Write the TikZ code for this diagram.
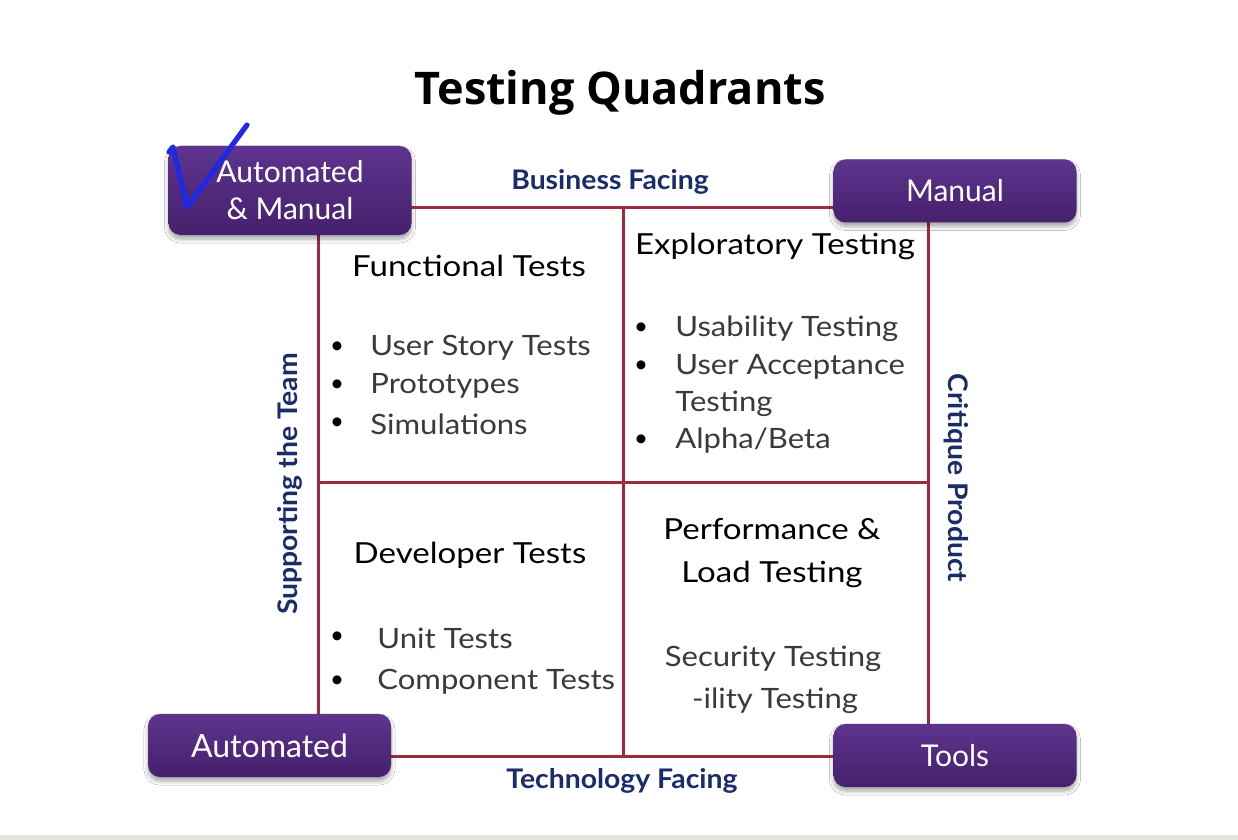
\documentclass[tikz,border=0pt]{standalone}
\usepackage{fontspec}
\setmainfont{Lato}
\newfontfamily\titlefont{Open Sans}
\newfontfamily\bodyfont[FakeStretch=1.11]{Lato}
\newfontfamily\headfont[FakeStretch=1.14]{Lato}
\newfontfamily\axisfont[FakeStretch=1.05]{Lato}
\usetikzlibrary{shadows.blur}
\definecolor{gridred}{HTML}{9E2A3C}
\definecolor{boxtop}{HTML}{5E348E}
\definecolor{boxbot}{HTML}{45206C}
\definecolor{navy}{HTML}{1B2C6B}
\definecolor{bodygray}{HTML}{3A3A3A}
\definecolor{tickblue}{HTML}{1E28E6}
\definecolor{edgerule}{HTML}{E6E6DA}
\tikzset{
  gridline/.style={draw=gridred, line width=1.5pt},
  cornerbox/.style={rounded corners=6pt, top color=boxtop, bottom color=boxbot,
    text=white, font=\fontsize{15}{18.5}\selectfont, align=center, inner sep=0pt,
    minimum width=121.5pt, minimum height=31.5pt,
    blur shadow={shadow xshift=0pt, shadow yshift=-2pt, shadow blur steps=6, shadow opacity=35}},
  axislabel/.style={text=navy, font=\axisfont\bfseries\fontsize{13.5}{16}\selectfont},
  heading/.style={text=black, font=\headfont\fontsize{14.5}{21.5}\selectfont, align=center},
  item/.style={text=bodygray, font=\bodyfont\fontsize{14}{17}\selectfont, anchor=west, inner sep=0pt},
  bullet/.style={text=black, font=\fontsize{12}{14}\selectfont, inner sep=0pt},
}
\begin{document}
\begin{tikzpicture}[x=0.5pt, y=-0.5pt]
  \useasboundingbox[fill=white] (0,0) rectangle (1238,840);
  % faint rule along the lower edge
  \fill[edgerule] (0,835) rectangle (1238,840);

  % title
  \node[font=\titlefont\bfseries\fontsize{22.5}{27}\selectfont] (title) at (620,93) {Testing Quadrants};

  % quadrant grid
  \coordinate (TL) at (318,208);
  \coordinate (TM) at (623,208);
  \coordinate (TR) at (928,208);
  \coordinate (ML) at (318,482);
  \coordinate (MR) at (928,482);
  \coordinate (BL) at (318,756);
  \coordinate (BM) at (623,756);
  \coordinate (BR) at (928,756);
  \draw[gridline] (TL) rectangle (BR);
  \draw[gridline] (TM) -- (BM);
  \draw[gridline] (ML) -- (MR);

  % corner boxes
  \node[cornerbox, minimum height=44.5pt] (am) at (290,190.5) {Automated\\\& Manual};
  \node[cornerbox] (manual) at (955,191) {Manual};
  \node[cornerbox, font=\fontsize{16}{19}\selectfont] (auto) at (269.5,745.5) {Automated};
  \node[cornerbox] (tools) at (955,755.5) {Tools};

  % tick mark over the first box
  \draw[tickblue, line width=2.6pt, line cap=round, line join=round]
    (169,152) -- (173,147) -- (187,207) -- (247,125);

  % axis labels
  \node[axislabel] (business) at (610,182) {Business Facing};
  \node[axislabel] (technology) at (622,781) {Technology Facing};
  \node[axislabel, rotate=90] (support) at (290,484) {Supporting the Team};
  \node[axislabel, rotate=-90] (critique) at (956,478) {Critique Product};

  % quadrant headings
  \node[heading] (q2) at (469,266) {Functional Tests};
  \node[heading] (q3) at (775,246) {Exploratory Testing};
  \node[heading] (q1) at (470,555) {Developer Tests};
  \node[heading] (q4) at (772,553) {Performance \&\\Load Testing};

  % quadrant items
  \foreach \t/\y [count=\i] in {User Story Tests/348, Prototypes/386, Simulations/424} {
    \node[bullet] (b2\i) at (337,\y) {•};
    \node[item] (i2\i) at (370,\y) {\t};
  }
  \foreach \y [count=\i] in {329, 367, 441} {
    \node[bullet] (b3\i) at (641,\y) {•};
  }
  \node[item] (i31) at (675,329) {Usability Testing};
  \node[item] (i32) at (675,367) {User Acceptance};
  \node[item] (i33) at (675,404) {Testing};
  \node[item] (i34) at (675,441) {Alpha/Beta};
  \node[bullet] (b11) at (337,638) {•};
  \node[item] (i11) at (377,638) {Unit Tests};
  \node[bullet] (b12) at (337,682) {•};
  \node[item] (i12) at (377,682) {Component Tests};
  \node[item, anchor=center] (i41) at (773,659) {Security Testing};
  \node[item, anchor=center] (i42) at (775,701) {-ility Testing};
\end{tikzpicture}
\end{document}
